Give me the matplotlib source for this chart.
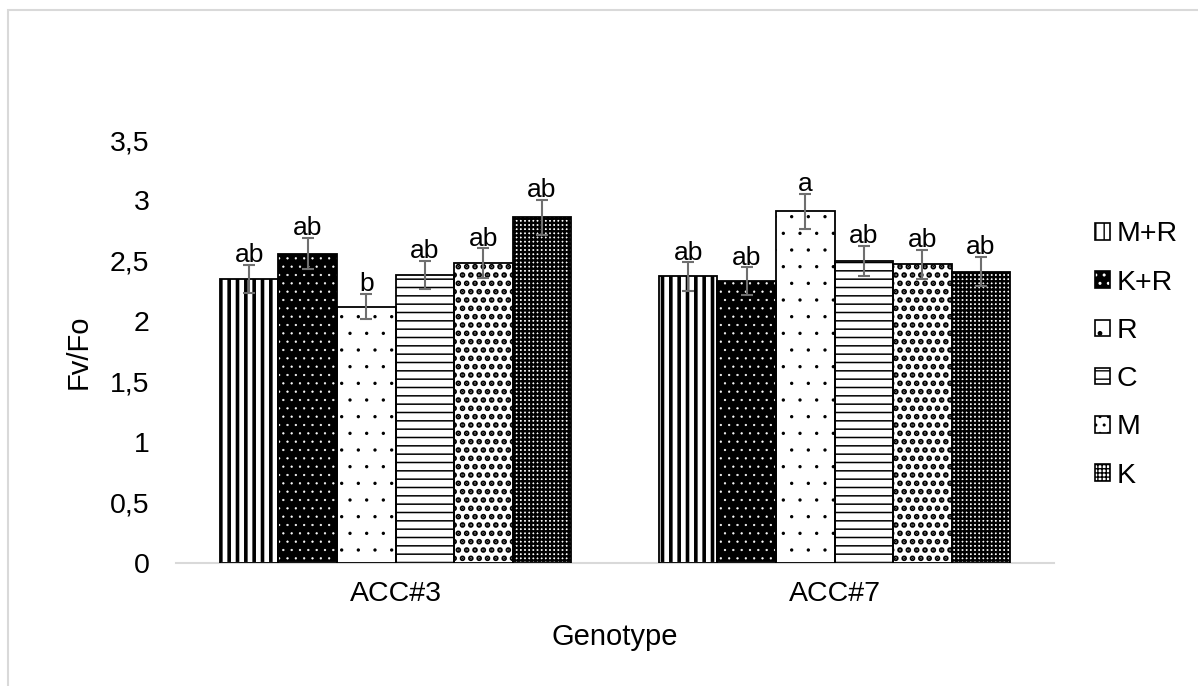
import matplotlib
matplotlib.use("Agg")
import matplotlib.pyplot as plt
import numpy as np
from matplotlib.patches import Rectangle

plt.rcParams['font.family'] = ['Liberation Sans', 'DejaVu Sans']

genotypes = ['ACC#3', 'ACC#7']
treatments = ['M+R', 'K+R', 'R', 'C', 'M', 'K']
means = {
    'M+R': [2.35, 2.37],
    'K+R': [2.56, 2.33],
    'R':   [2.12, 2.91],
    'C':   [2.38, 2.50],
    'M':   [2.48, 2.47],
    'K':   [2.86, 2.41],
}
errors = {
    'M+R': [0.117, 0.117],
    'K+R': [0.128, 0.116],
    'R':   [0.106, 0.145],
    'C':   [0.117, 0.123],
    'M':   [0.123, 0.121],
    'K':   [0.144, 0.119],
}
letters = {
    'M+R': ['ab', 'ab'],
    'K+R': ['ab', 'ab'],
    'R':   ['b', 'a'],
    'C':   ['ab', 'ab'],
    'M':   ['ab', 'ab'],
    'K':   ['ab', 'ab'],
}

# face, hatch colour, hatch, hatch linewidth
styles = {
    'M+R': ('white', 'black', '||', 2.6),
    'K+R': ('black', 'white', '..', 0.4),
    'R':   ('white', 'black', '.', 0.0),
    'C':   ('white', 'black', '--', 1.1),
    'M':   ('white', 'black', '..', 2.8),
    'K':   ('white', 'black', '++++', 1.7),
}


def hatched_rect(xy, w, h, face, hcol, hatch, hlw):
    with plt.rc_context({'hatch.linewidth': hlw}):
        r = Rectangle(xy, w, h, facecolor=face, edgecolor=hcol, hatch=hatch, linewidth=0)
        if hasattr(r, 'set_hatch_linewidth'):
            r.set_hatch_linewidth(hlw)
    return r


fig = plt.figure(figsize=(11.98, 6.86), dpi=100)
ax = fig.add_axes([176 / 1198, 1 - 562.7 / 686, 878 / 1198, 422.7 / 686])

x = np.arange(len(genotypes))
width = 0.8 / len(treatments)

handles = []
for i, t in enumerate(treatments):
    face, hcol, hatch, hlw = styles[t]
    pos = x - 0.4 + width * (i + 0.5)
    with plt.rc_context({'hatch.linewidth': hlw}):
        bars = ax.bar(pos, means[t], width, color=face, edgecolor=hcol,
                      hatch=hatch, linewidth=0, zorder=2)
        for b in bars:
            if hasattr(b, 'set_hatch_linewidth'):
                b.set_hatch_linewidth(hlw)
    ax.bar(pos, means[t], width, fill=False, edgecolor='black', linewidth=1.3, zorder=3)
    ax.errorbar(pos, means[t], yerr=errors[t], fmt='none', ecolor='#6f6f6f',
                elinewidth=1.5, capsize=4.5, capthick=1.5, zorder=4)
    for p, m, e, lab in zip(pos, means[t], errors[t], letters[t]):
        ax.annotate(lab, (p, m + e), xytext=(0, 2), textcoords='offset points',
                    ha='center', va='baseline', fontsize=19)
    h_fill = hatched_rect((0, 0), 1, 1, face, hcol, hatch, hlw)
    h_edge = Rectangle((0, 0), 1, 1, fill=False, edgecolor='black', linewidth=1.2)
    handles.append((h_fill, h_edge))

ax.set_xlim(-0.5, 1.5)
ax.set_ylim(0, 3.5)
yt = np.arange(0, 3.51, 0.5)
ax.set_yticks(yt)
ax.set_yticklabels([f'{v:g}'.replace('.', ',') for v in yt])
ax.set_xticks(x)
ax.set_xticklabels(genotypes)
ax.tick_params(axis='y', length=0, pad=19, labelsize=20.5)
ax.tick_params(axis='x', length=0, pad=13, labelsize=20.5)
for s in ['top', 'right', 'left']:
    ax.spines[s].set_visible(False)
ax.spines['bottom'].set_color('#d9d9d9')
ax.spines['bottom'].set_linewidth(1.5)

ax.set_xlabel('Genotype', fontsize=21)
ax.xaxis.set_label_coords(0.5, -0.143)
ax.set_ylabel('Fv/Fo', fontsize=21)
ax.yaxis.set_label_coords(-0.0945, 0.5)

leg = fig.legend(handles, treatments, loc='center left',
                 bbox_to_anchor=(1095 / 1198, 1 - 355 / 686), frameon=False,
                 fontsize=20.5, handlelength=0.52, handleheight=0.52,
                 handletextpad=0.25, labelspacing=0.78, borderpad=0, borderaxespad=0)

# chart-area border (only top and left edges show)
fig.add_artist(Rectangle((8 / 1198, -0.2), 1.5, 0.2 + 1 - 10 / 686, transform=fig.transFigure,
                         fill=False, edgecolor='#d9d9d9', linewidth=1.5))

fig.savefig('out.png', dpi=100)
